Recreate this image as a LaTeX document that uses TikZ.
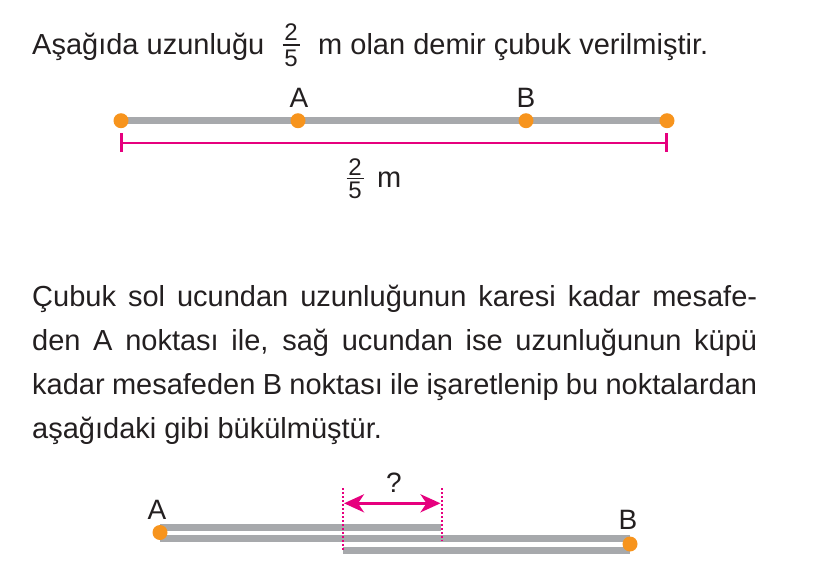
\documentclass[tikz,border=0pt]{standalone}
\usepackage{fontspec}
\setmainfont{Liberation Sans}
\usetikzlibrary{arrows.meta}
\definecolor{rodgray}{HTML}{A7A9AC}
\definecolor{dotorange}{HTML}{F7941D}
\definecolor{dimpink}{HTML}{E6007E}
\definecolor{txt}{HTML}{231F20}
\begin{document}
\begin{tikzpicture}[x=1pt,y=-1pt,
  txtnode/.style={inner sep=0pt,anchor=base west,text=txt,font=\fontsize{29}{34}\selectfont},
  lbl/.style={inner sep=0pt,text=txt,font=\fontsize{28}{33}\selectfont},
  digit/.style={inner sep=0pt,text=txt,font=\fontsize{24}{27}\selectfont},
  fracbar/.style={draw=txt,line width=1.3pt},
  rod/.style={draw=rodgray,line width=7pt},
  rodb/.style={draw=rodgray,line width=7pt},
  enddot/.style={circle,fill=dotorange,inner sep=0pt,minimum size=15pt},
  dim/.style={draw=dimpink,line width=2pt},
  dimtick/.style={draw=dimpink,line width=2.5pt},
  guide/.style={draw=dimpink,line width=2pt,dash pattern=on 2pt off 2pt},
  dimarrow/.style={draw=dimpink,line width=3pt,{Stealth[length=20pt,width=18pt,inset=6pt]}-{Stealth[length=20pt,width=18pt,inset=6pt]}},
]
\useasboundingbox (0,0) rectangle (820,574);

% ---- first line ----
\node[txtnode] (t1a) at (32,54) {Aşağıda uzunluğu};
\node[digit] (f1n) at (291,31.7) {2};
\node[digit] (f1d) at (291,58.3) {5};
\coordinate (f1l) at (282.5,45);
\coordinate (f1r) at (299.5,45);
\draw[fracbar] (f1l) -- (f1r);
\node[txtnode] (t1b) at (318,54) {m olan demir çubuk verilmiştir.};

% ---- straight rod ----
\coordinate (L) at (121,120.7);
\coordinate (A) at (298,120.7);
\coordinate (B) at (526,120.7);
\coordinate (R) at (667,120.7);
\draw[rod] (L) -- (R);
\node[enddot] (dL) at (L) {};
\node[enddot] (dA) at (A) {};
\node[enddot] (dB) at (B) {};
\node[enddot] (dR) at (R) {};
\node[lbl] (lA) at (299,97.5) {A};
\node[lbl] (lB) at (526,97.5) {B};

% dimension
\coordinate (dl) at (121.3,143.3);
\coordinate (dr) at (666.7,143.3);
\draw[dim] (dl) -- (dr);
\draw[dimtick] ([yshift=10pt]dl) -- ([yshift=-9pt]dl);
\draw[dimtick] ([yshift=10pt]dr) -- ([yshift=-9pt]dr);
\node[digit] (f2n) at (355,167.5) {2};
\node[digit] (f2d) at (355,190.5) {5};
\coordinate (f2l) at (346.5,178.3);
\coordinate (f2r) at (363.5,178.3);
\draw[fracbar] (f2l) -- (f2r);
\node[txtnode] (m2) at (377,187.3) {m};

% ---- paragraph ----
\node[txtnode] (p1) at (32,306) {\makebox[725pt][s]{Çubuk sol ucundan uzunluğunun karesi kadar mesafe-}};
\node[txtnode] (p2) at (32,350) {\makebox[725pt][s]{den A noktası ile, sağ ucundan ise uzunluğunun küpü}};
\node[txtnode] (p3) at (32,394) {\makebox[725pt][s]{kadar mesafeden B noktası ile işaretlenip bu noktalardan}};
\node[txtnode] (p4) at (32,438) {aşağıdaki gibi bükülmüştür.};

% ---- bent rod ----
\coordinate (ta) at (160,527);
\coordinate (tb) at (441,527);
\coordinate (ma) at (160,538);
\coordinate (mb) at (630,538);
\coordinate (ba) at (343,550);
\coordinate (bb) at (630,550);
\draw[rodb] (ta) -- (tb);
\draw[rodb] (ma) -- (mb);
\draw[rodb] (ba) -- (bb);
\node[enddot] (bA) at (160,532.5) {};
\node[enddot] (bB) at (630,544) {};
\node[lbl] (blA) at (157,510) {A};
\node[lbl] (blB) at (628,520) {B};

\coordinate (g1t) at (342.7,488);
\coordinate (g1b) at (342.7,551);
\coordinate (g2t) at (441.7,488);
\coordinate (g2b) at (441.7,541);
\draw[guide] (g1t) -- (g1b);
\draw[guide] (g2t) -- (g2b);
\coordinate (arl) at (344,503.3);
\coordinate (arr) at (440.5,503.3);
\draw[dimarrow] (arl) -- (arr);
\node[lbl] (q) at (394,483) {?};
\end{tikzpicture}
\end{document}
